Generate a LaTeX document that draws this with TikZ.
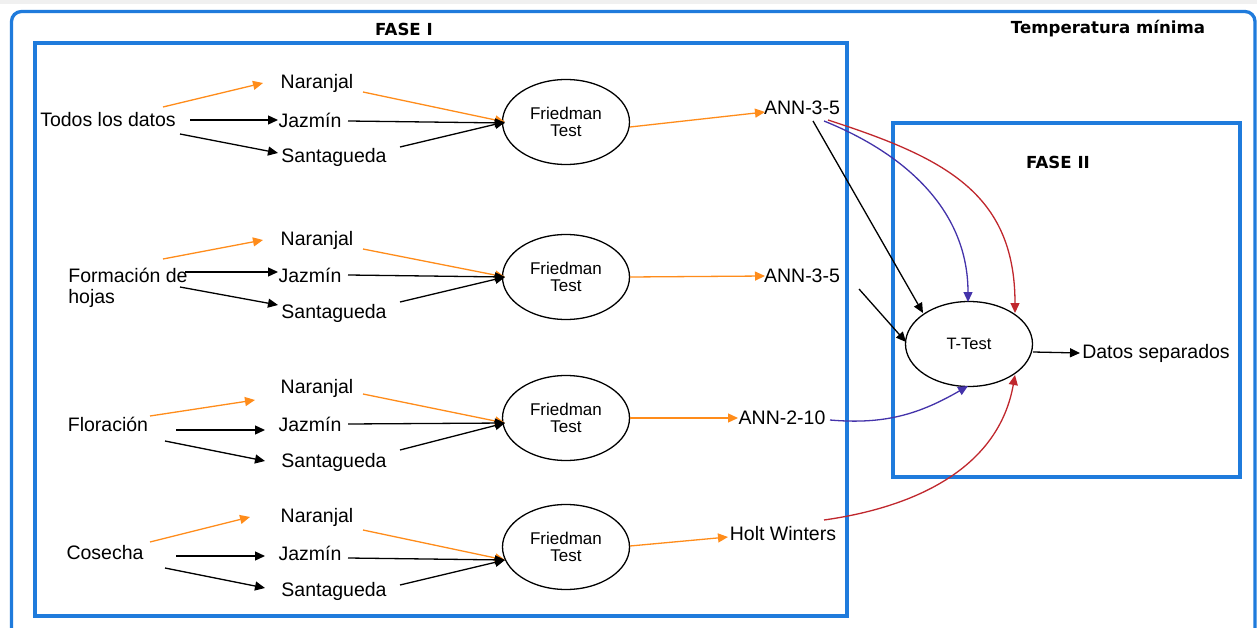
\documentclass[tikz,border=0pt]{standalone}
\usepackage{fontspec}
\setmainfont{Liberation Sans}
\newfontfamily\titlefont{DejaVu Sans}
\usetikzlibrary{shapes.geometric,arrows.meta,calc}
\definecolor{frameblue}{HTML}{1F7BDC}
\definecolor{orangec}{HTML}{FF8C1A}
\definecolor{purplec}{HTML}{4433AA}
\definecolor{redc}{HTML}{C0272D}
\tikzset{
  lbl/.style={inner sep=0pt, font=\fontsize{19.5}{22}\selectfont},
  fried/.style={draw, ellipse, line width=1.3pt, minimum width=127pt, minimum height=85pt, inner sep=0pt, align=center, font=\fontsize{17}{17}\selectfont},
  frame/.style={draw=frameblue, line width=3.3pt},
  ttl/.style={inner sep=0pt, font=\titlefont\bfseries\fontsize{16.6}{18}\selectfont},
  arr/.style={-{Triangle[length=10pt,width=9pt]}, line width=1.3pt},
  oarr/.style={arr, draw=orangec},
  barr/.style={arr, draw=black},
  parr/.style={arr, draw=purplec},
  rarr/.style={arr, draw=redc}
}
\begin{document}
\begin{tikzpicture}[x=1pt,y=-1pt]
\useasboundingbox (0,0) rectangle (1257,628);
\clip (0,0) rectangle (1257,628);
\fill[white] (0,0) rectangle (1257,628);
\fill[black!6] (0,0) rectangle (1257,4);
% frames
\draw[frame, rounded corners=10pt] (11.5,11.5) rectangle (1255,650);
\draw[frame] (35,43) rectangle (847,616);
\draw[frame] (893,123) rectangle (1240,477);
\node[ttl] (fase1) at (404,29) {FASE I};
\node[ttl] (temp) at (1108,29) {Temperatura mínima};
\node[ttl] (fase2) at (1058,162) {FASE II};

% row 1
\node[lbl] (todos) at (108,120) {Todos los datos};
\node[lbl] (n1) at (317,83) {Naranjal};
\node[lbl] (j1) at (310,120) {Jazmín};
\node[lbl] (s1) at (334,157) {Santagueda};
\node[fried] (f1) at (566,122) {Friedman\\Test};
\node[lbl] (a1) at (802,108) {ANN-3-5};
\draw[oarr] ($(todos)+(55,-13)$) -- ($(n1)+(-54,0)$);
\draw[barr] ($(todos)+(82,0)$) -- ($(j1)+(-32,0)$);
\draw[barr] ($(todos)+(72,14)$) -- ($(s1)+(-56,-4)$);
\draw[oarr] ($(n1)+(46,9)$) -- ($(f1)+(-61,0)$);
\draw[barr] ($(j1)+(38,1)$) -- ($(f1)+(-61,1)$);
\draw[barr] ($(s1)+(66,-10)$) -- ($(f1)+(-61,0)$);
\draw[oarr] ($(f1)+(64,5)$) -- ($(a1)+(-37,4)$);

% row 2
\node[lbl, align=left, font=\fontsize{19.5}{21}\selectfont] (form) at (128,288) {Formación de\\hojas};
\node[lbl] (n2) at (317,240) {Naranjal};
\node[lbl] (j2) at (310,275) {Jazmín};
\node[lbl] (s2) at (334,313) {Santagueda};
\node[fried] (f2) at (566,277) {Friedman\\Test};
\node[lbl] (a2) at (802,276) {ANN-3-5};
\draw[oarr] ($(form)+(35,-29)$) -- ($(n2)+(-54,0)$);
\draw[barr] ($(form)+(57,-16)$) -- ($(j2)+(-32,-3)$);
\draw[barr] ($(form)+(52,-1)$) -- ($(s2)+(-56,-8)$);
\draw[oarr] ($(n2)+(46,9)$) -- ($(f2)+(-61,0)$);
\draw[barr] ($(j2)+(38,0)$) -- ($(f2)+(-61,0)$);
\draw[barr] ($(s2)+(66,-11)$) -- ($(f2)+(-61,0)$);
\draw[oarr] ($(f2)+(64,0)$) -- ($(a2)+(-37,0)$);

% row 3
\node[lbl] (flor) at (108,424) {Floración};
\node[lbl] (n3) at (317,388) {Naranjal};
\node[lbl] (j3) at (310,424) {Jazmín};
\node[lbl] (s3) at (334,462) {Santagueda};
\node[fried] (f3) at (566,418) {Friedman\\Test};
\node[lbl] (a3) at (782,418) {ANN-2-10};
\draw[oarr] ($(flor)+(42,-8)$) -- ($(n3)+(-62,12)$);
\draw[barr] ($(flor)+(68,6)$) -- ($(j3)+(-45,6)$);
\draw[barr] ($(flor)+(57,17)$) -- ($(s3)+(-69,-1)$);
\draw[oarr] ($(n3)+(46,6)$) -- ($(f3)+(-61,5)$);
\draw[barr] ($(j3)+(38,0)$) -- ($(f3)+(-61,5)$);
\draw[barr] ($(s3)+(66,-12)$) -- ($(f3)+(-61,5)$);
\draw[oarr] ($(f3)+(64,0)$) -- ($(a3)+(-44,0)$);

% row 4
\node[lbl] (cos) at (105,553) {Cosecha};
\node[lbl] (n4) at (317,517) {Naranjal};
\node[lbl] (j4) at (310,553) {Jazmín};
\node[lbl] (s4) at (334,591) {Santagueda};
\node[fried] (f4) at (566,547) {Friedman\\Test};
\node[lbl] (a4) at (783,534) {Holt Winters};
\draw[oarr] ($(cos)+(45,-11)$) -- ($(n4)+(-67,0)$);
\draw[barr] ($(cos)+(71,3)$) -- ($(j4)+(-45,3)$);
\draw[barr] ($(cos)+(60,15)$) -- ($(s4)+(-69,-3)$);
\draw[oarr] ($(n4)+(46,13)$) -- ($(f4)+(-61,13)$);
\draw[barr] ($(j4)+(38,5)$) -- ($(f4)+(-61,13)$);
\draw[barr] ($(s4)+(66,-6)$) -- ($(f4)+(-61,13)$);
\draw[oarr] ($(f4)+(64,-1)$) -- ($(a4)+(-55,3)$);

% phase II
\node[fried, font=\fontsize{16.5}{17}\selectfont] (tt) at (969,344) {T-Test};
\node[lbl] (ds) at (1156,353) {Datos separados};
\draw[barr] ($(tt)+(64,8)$) -- ($(ds)+(-76,0)$);
\draw[barr] ($(a1)+(11,13)$) -- ($(tt)+(-46,-31)$);
\draw[barr] ($(a2)+(57,13)$) -- ($(tt)+(-63,-2)$);
\draw[parr] ($(a1)+(22,13)$) to[out=-22,in=90] ($(tt)+(-1,-42)$);
\draw[rarr] ($(a1)+(26,12)$) to[out=-18,in=90,looseness=1.15] ($(tt)+(46,-31)$);
\draw[parr] ($(a3)+(48,2)$) to[out=-5,in=-150] ($(tt)+(-1,42)$);
\draw[rarr] ($(a4)+(41,-14)$) to[out=8,in=-100] ($(tt)+(46,31)$);
\end{tikzpicture}
\end{document}
